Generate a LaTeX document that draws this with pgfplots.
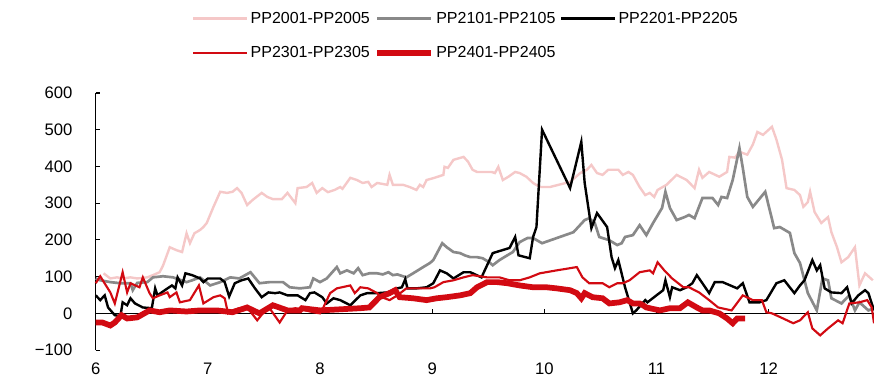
\documentclass[border=0pt]{standalone}
\usepackage{pgfplots}
\pgfplotsset{compat=1.18}
\usepackage{fontspec}
\setmainfont{Liberation Sans}
\definecolor{cpink}{RGB}{245,200,200}
\definecolor{cgray}{RGB}{137,137,137}
\definecolor{cred}{RGB}{210,10,18}
\begin{document}
\begin{tikzpicture}
\begin{axis}[
  width=583.7pt, height=192.8pt, scale only axis,
  xmin=6, xmax=12.94, ymin=-100, ymax=600,
  axis y line*=left, axis x line*=bottom,
  x axis line style={draw=none},
  y axis line style={black, line width=0.8pt},
  xtick={6,7,8,9,10,11,12},
  xtick style={draw=none},
  ytick={-100,0,100,200,300,400,500,600},
  yticklabels={−100,0,100,200,300,400,500,600},
  ytick style={black, line width=0.8pt},
  tick align=inside, major tick length=3pt,
  tick label style={font=\fontsize{12.5}{14}\selectfont},
  yticklabel style={xshift=-14pt},
  xticklabel style={yshift=-6pt},
  /pgf/number format/assume math mode=true,
  legend columns=3,
  legend cell align=left,
  legend image code/.code={\draw[#1] (0pt,0pt) -- (40pt,0pt);},
  legend style={draw=none, fill=none, inner sep=0pt, at={(0.1237,1)}, anchor=north west, yshift=63pt,
    font=\fontsize{12}{14}\selectfont,
    /tikz/every even column/.append style={column sep=1.5pt},
    row sep=12pt},
  clip=false,
]
\addplot[black, line width=1.1pt, forget plot] coordinates {(6,0) (12.94,0)};
\addplot[black, line width=0.8pt, forget plot, unbounded coords=jump] coordinates {
(7,0) (7,13) (7,nan) (8,0) (8,13) (8,nan) (9,0) (9,13) (9,nan) (10,0) (10,13) (10,nan) (11,0) (11,13) (11,nan) (12,0) (12,13)};

\addplot[cpink, line width=1.8pt] coordinates {
(6.07,109) (6.13,95) (6.19,98) (6.24,95) (6.31,98) (6.37,95) (6.46,98) (6.51,104) (6.57,112) (6.60,130)
(6.66,180) (6.72,172) (6.77,167) (6.81,218) (6.84,191) (6.88,218) (6.93,227) (6.96,235) (6.99,246)
(7.05,290) (7.11,331) (7.17,328) (7.22,331) (7.26,341) (7.30,328) (7.35,295) (7.40,309) (7.48,328)
(7.53,317) (7.58,311) (7.66,311) (7.71,328) (7.78,300) (7.80,341) (7.88,344) (7.93,355) (7.97,328)
(8.02,341) (8.07,330) (8.13,336) (8.18,344) (8.20,339) (8.27,369) (8.33,363) (8.38,355) (8.43,358)
(8.46,344) (8.51,355) (8.60,350) (8.62,377) (8.65,350) (8.74,350) (8.80,344) (8.86,336) (8.89,350)
(8.92,344) (8.95,363) (9.02,369) (9.10,377) (9.11,399) (9.14,396) (9.19,418) (9.28,426) (9.32,413)
(9.36,391) (9.40,385) (9.53,385) (9.56,382) (9.59,399) (9.63,363) (9.68,372) (9.74,385) (9.78,382)
(9.84,372) (9.90,355) (9.96,344) (10.05,344) (10.23,358) (10.32,382) (10.38,391) (10.42,404)
(10.47,382) (10.52,377) (10.57,391) (10.66,391) (10.70,377) (10.75,385) (10.79,377) (10.85,344)
(10.90,322) (10.94,328) (10.98,317) (11.01,336) (11.09,350) (11.18,377) (11.27,363) (11.34,341)
(11.38,391) (11.41,369) (11.47,385) (11.56,372) (11.63,385) (11.65,426) (11.70,424) (11.74,440)
(11.81,432) (11.86,460) (11.90,494) (11.95,486) (12.03,508) (12.07,473) (12.12,418) (12.16,341)
(12.23,336) (12.28,322) (12.31,290) (12.35,303) (12.37,331) (12.41,276) (12.47,246) (12.53,262)
(12.56,221) (12.61,180) (12.65,139) (12.71,153) (12.77,180) (12.81,76) (12.86,109) (12.93,90)
};
\addlegendentry{PP2001-PP2005}

\addplot[cgray, line width=2pt] coordinates {
(6.00,95) (6.04,90) (6.13,85) (6.22,82) (6.31,82) (6.33,63) (6.37,83) (6.46,85) (6.51,98) (6.60,101)
(6.69,98) (6.81,85) (6.86,90) (6.93,98) (7.02,76) (7.11,85) (7.20,98) (7.28,95) (7.38,112) (7.46,82)
(7.55,85) (7.67,85) (7.73,71) (7.82,68) (7.91,71) (7.94,95) (8.00,85) (8.06,95) (8.15,126) (8.18,109)
(8.24,117) (8.30,109) (8.34,123) (8.38,104) (8.44,109) (8.51,109) (8.56,106) (8.61,112) (8.65,104)
(8.69,106) (8.77,98) (8.83,109) (8.92,126) (8.98,137) (9.01,145) (9.09,191) (9.13,180) (9.19,167)
(9.25,164) (9.29,158) (9.34,153) (9.40,153) (9.45,150) (9.51,139) (9.54,131) (9.60,145) (9.67,158)
(9.72,167) (9.78,194) (9.85,205) (9.90,205) (9.98,191) (10.26,221) (10.36,254) (10.40,259)
(10.45,246) (10.49,208) (10.58,199) (10.65,186) (10.69,191) (10.72,208) (10.79,213) (10.85,240)
(10.91,213) (10.97,246) (11.05,287) (11.08,331) (11.12,287) (11.18,254) (11.25,262) (11.29,268)
(11.34,259) (11.41,314) (11.50,314) (11.55,295) (11.58,317) (11.63,314) (11.68,363) (11.74,450)
(11.77,396) (11.81,317) (11.86,290) (11.97,331) (12.05,232) (12.10,235) (12.19,219) (12.23,164)
(12.28,137) (12.35,55) (12.43,8) (12.48,95) (12.53,90) (12.56,41) (12.65,27) (12.72,49) (12.77,8)
(12.81,30) (12.89,8) (12.94,14)
};
\addlegendentry{PP2101-PP2105}

\addplot[black, line width=1.8pt] coordinates {
(6.00,49) (6.04,36) (6.08,49) (6.11,16) (6.17,-5) (6.22,-8) (6.24,30) (6.28,22) (6.31,41) (6.35,27)
(6.42,16) (6.50,14) (6.53,68) (6.55,49) (6.64,68) (6.68,76) (6.71,68) (6.73,98) (6.77,76) (6.80,109)
(6.86,104) (6.93,95) (6.96,85) (7.00,95) (7.11,95) (7.15,85) (7.19,46) (7.24,82) (7.30,90) (7.36,95)
(7.42,68) (7.48,44) (7.54,57) (7.60,55) (7.64,57) (7.71,49) (7.80,49) (7.87,36) (7.91,55) (7.95,57)
(8.02,44) (8.06,27) (8.12,41) (8.18,36) (8.27,22) (8.36,49) (8.42,55) (8.51,55) (8.60,57) (8.69,68)
(8.73,71) (8.76,93) (8.78,68) (8.86,68) (8.95,71) (9.01,82) (9.07,117) (9.13,109) (9.19,95) (9.28,112)
(9.34,112) (9.44,98) (9.54,164) (9.69,178) (9.74,208) (9.77,158) (9.87,150) (9.90,208) (9.93,235)
(9.98,500) (10.23,341) (10.33,467) (10.36,355) (10.42,232) (10.47,273) (10.56,235) (10.60,153)
(10.63,123) (10.66,145) (10.72,71) (10.79,0) (10.82,8) (10.90,36) (10.92,30) (11.00,49) (11.06,63)
(11.08,90) (11.12,44) (11.14,71) (11.21,63) (11.27,71) (11.32,82) (11.36,104) (11.41,82) (11.47,55)
(11.52,85) (11.59,85) (11.72,68) (11.77,82) (11.83,30) (11.92,30) (11.98,36) (12.07,82) (12.14,90)
(12.23,55) (12.28,76) (12.32,90) (12.39,145) (12.43,117) (12.46,131) (12.50,68) (12.56,57) (12.65,55)
(12.70,71) (12.74,27) (12.80,49) (12.86,63) (12.89,55) (12.94,8)
};
\addlegendentry{PP2201-PP2205}

\addplot[cred, line width=1.6pt] coordinates {
(6.00,82) (6.04,101) (6.13,57) (6.17,27) (6.24,112) (6.28,57) (6.31,82) (6.39,71) (6.42,98) (6.48,55)
(6.51,41) (6.57,49) (6.64,57) (6.66,44) (6.72,57) (6.75,30) (6.84,36) (6.92,76) (6.96,27) (7.05,44)
(7.11,49) (7.15,41) (7.18,0) (7.22,8) (7.28,14) (7.35,16) (7.44,-19) (7.49,0) (7.55,14) (7.64,-25)
(7.71,8) (7.78,14) (7.87,8) (7.94,3) (8.00,0) (8.03,16) (8.09,55) (8.15,68) (8.27,76) (8.31,55)
(8.36,71) (8.43,68) (8.51,55) (8.55,44) (8.62,36) (8.69,49) (8.77,68) (8.86,68) (8.98,68) (9.02,71)
(9.10,85) (9.19,90) (9.28,98) (9.36,104) (9.49,98) (9.60,98) (9.69,90) (9.78,90) (9.87,98) (9.96,109)
(10.11,117) (10.29,126) (10.34,98) (10.40,82) (10.52,82) (10.58,71) (10.65,82) (10.70,82) (10.76,90)
(10.85,112) (10.94,117) (10.97,109) (11.01,139) (11.07,117) (11.14,95) (11.24,71) (11.29,71)
(11.38,57) (11.47,36) (11.55,16) (11.67,8) (11.77,49) (11.86,36) (11.94,36) (11.98,3) (12.03,0)
(12.13,-14) (12.22,-27) (12.28,-19) (12.35,3) (12.39,-41) (12.46,-60) (12.53,-41) (12.62,-19)
(12.66,-27) (12.72,27) (12.81,30) (12.88,36) (12.92,16) (12.94,-27)
};
\addlegendentry{PP2301-PP2305}

\addplot[cred, line width=4.3pt] coordinates {
(6.00,-25) (6.06,-25) (6.13,-33) (6.17,-25) (6.23,-5) (6.28,-14) (6.37,-11) (6.48,8) (6.57,3) (6.66,8)
(6.81,5) (6.93,8) (7.08,8) (7.22,3) (7.35,16) (7.46,0) (7.58,22) (7.71,8) (7.82,8) (7.84,14) (8.00,8)
(8.18,11) (8.36,14) (8.44,16) (8.53,44) (8.62,55) (8.67,63) (8.71,44) (8.83,41) (8.95,36) (9.04,41)
(9.13,44) (9.25,49) (9.34,55) (9.40,71) (9.49,85) (9.58,85) (9.67,82) (9.78,76) (9.90,71) (10.02,71)
(10.11,68) (10.23,63) (10.29,55) (10.33,41) (10.36,55) (10.43,44) (10.52,41) (10.58,27) (10.67,30)
(10.74,36) (10.79,27) (10.85,27) (10.88,22) (10.91,16) (11.03,8) (11.12,14) (11.21,14) (11.28,30)
(11.36,16) (11.41,8) (11.47,8) (11.56,0) (11.63,-14) (11.68,-27) (11.72,-14) (11.79,-14)
};
\addlegendentry{PP2401-PP2405}
\end{axis}
\pgfresetboundingbox
\path ([xshift=-71.8pt,yshift=-21pt]current axis.south west) rectangle ([yshift=69.75pt]current axis.north east);
\end{tikzpicture}
\end{document}
